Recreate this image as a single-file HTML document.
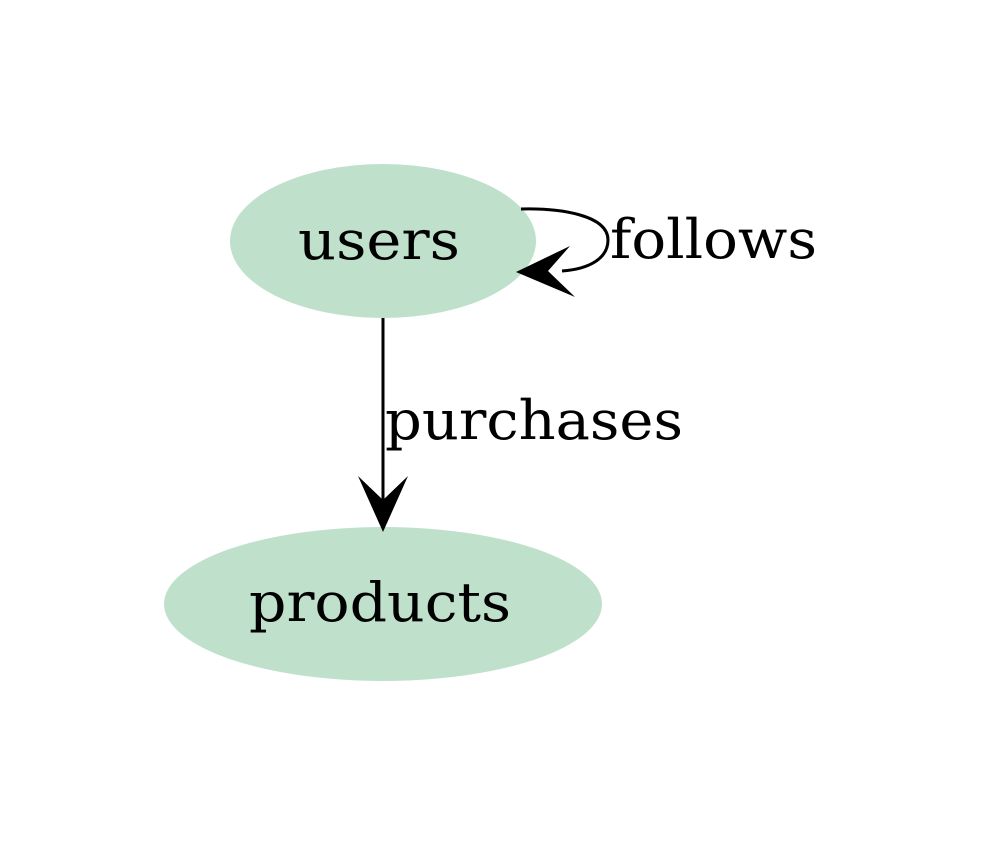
<!DOCTYPE html>
<html><head><style>html,body{margin:0;padding:0;background:#fff}svg{display:block}</style></head>
<body>
<svg width="988" height="846" viewBox="0 0 988 846" xmlns="http://www.w3.org/2000/svg">
<rect width="988" height="846" fill="#fff"/>
<ellipse cx="383" cy="241" rx="153" ry="77" fill="#bfe0cb"/>
<ellipse cx="383" cy="604" rx="219" ry="77" fill="#bfe0cb"/>
<g font-family="'DejaVu Serif','Liberation Serif',serif" font-size="54" fill="#000">
<text x="379" y="259" text-anchor="middle" textLength="162" lengthAdjust="spacingAndGlyphs">users</text>
<text x="380" y="621" text-anchor="middle" textLength="262" lengthAdjust="spacingAndGlyphs">products</text>
<text x="385" y="439" textLength="298" lengthAdjust="spacingAndGlyphs">purchases</text>
<text x="610" y="258" textLength="207" lengthAdjust="spacingAndGlyphs">follows</text>
</g>
<path d="M383 318 L383 500" stroke="#000" stroke-width="3" fill="none"/>
<path d="M383 532 L358 476 L383 500 L408 476 Z" fill="#000"/>
<path d="M521 209 C560 208 608 215 608 240 C608 258 590 269 562 271" stroke="#000" stroke-width="3" fill="none"/>
<path d="M516 272 L570 246 L548 271 L575 297 Z" fill="#000"/>
</svg>
</body></html>
